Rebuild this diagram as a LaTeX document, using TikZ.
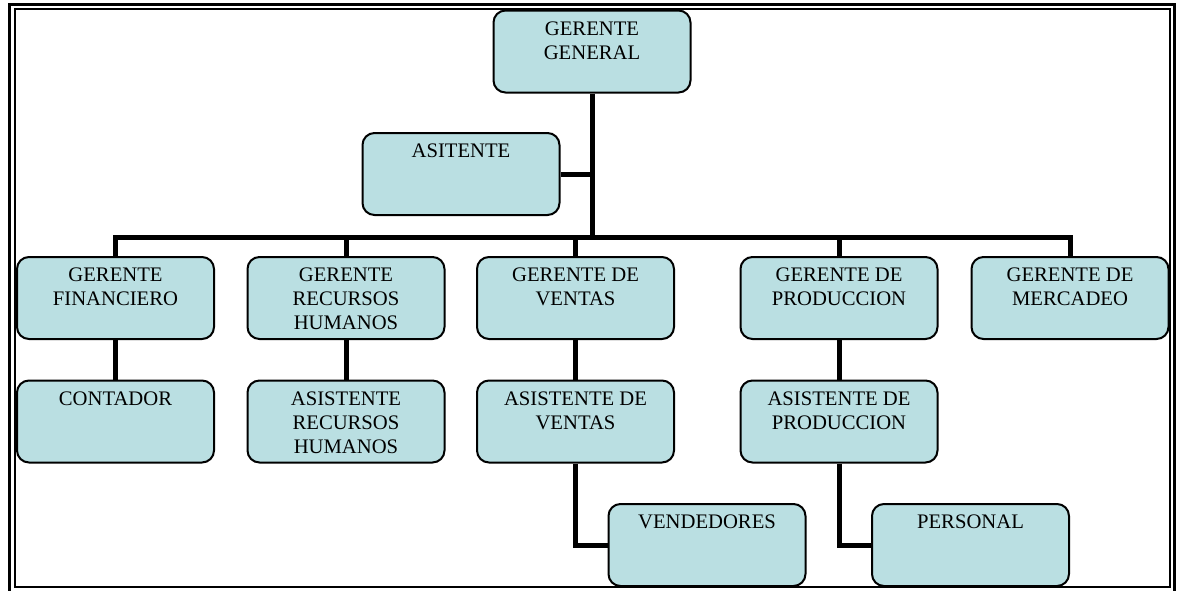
\documentclass[tikz,border=0pt]{standalone}
\usepackage{fontspec}
\setmainfont{Liberation Serif}
\definecolor{boxfill}{RGB}{186,223,226}
% text of a unit: set at the top of a fixed-size box
\newcommand\unittext[1]{\parbox[c][61.5pt][t]{147.75pt}{\centering\vspace*{8.25pt}#1}}
\begin{document}
\begin{tikzpicture}[x=0.75pt,y=-0.75pt,
  unit/.style={draw=black, line width=1.5pt, fill=boxfill, rounded corners=9pt,
    inner sep=0pt, minimum width=147.75pt, minimum height=61.5pt,
    font=\fontsize{15.5}{18}\selectfont},
  conn/.style={line width=3.75pt, draw=black}]
\useasboundingbox (0,0) rectangle (1178,590);

% double page frame
\begin{scope}
  \clip (0,0) rectangle (1178,590);
  \draw[line width=2.25pt] (9.5,4.5) rectangle (1174.5,620);
  \draw[line width=1.5pt] (15,9) rectangle (1169.5,586.5);
\end{scope}

% units
\node[unit] (gg)    at (592,51.5)   {\unittext{GERENTE\\GENERAL}};
\node[unit] (asit)  at (461,174)    {\unittext{ASITENTE}};
\node[unit] (fin)   at (115.5,298)  {\unittext{GERENTE\\FINANCIERO}};
\node[unit] (rrhh)  at (346,298)    {\unittext{GERENTE\\RECURSOS\\HUMANOS}};
\node[unit] (ven)   at (575.5,298)  {\unittext{GERENTE DE\\VENTAS}};
\node[unit] (prod)  at (839,298)    {\unittext{GERENTE DE\\PRODUCCION}};
\node[unit] (merc)  at (1070,298)   {\unittext{GERENTE DE\\MERCADEO}};
\node[unit] (cont)  at (115.5,421.5){\unittext{CONTADOR}};
\node[unit] (rrhhA) at (346,421.5)  {\unittext{ASISTENTE\\RECURSOS\\HUMANOS}};
\node[unit] (venA)  at (575.5,421.5){\unittext{ASISTENTE DE\\VENTAS}};
\node[unit] (prodA) at (839,421.5)  {\unittext{ASISTENTE DE\\PRODUCCION}};
\node[unit] (vend)  at (707,545)    {\unittext{VENDEDORES}};
\node[unit] (pers)  at (970.5,545)  {\unittext{PERSONAL}};

% connectors
\coordinate (bar) at (592,237);
\draw[conn] (gg.south) -- (gg.south |- bar);
\draw[conn] (asit.east) -- (asit.east -| gg.south);
\draw[conn] (fin.north) |- (merc.north |- bar) -- (merc.north);
\draw[conn] (rrhh.north) -- (rrhh.north |- bar);
\draw[conn] (ven.north) -- (ven.north |- bar);
\draw[conn] (prod.north) -- (prod.north |- bar);
\draw[conn] (fin.south) -- (cont.north);
\draw[conn] (rrhh.south) -- (rrhhA.north);
\draw[conn] (ven.south) -- (venA.north);
\draw[conn] (prod.south) -- (prodA.north);
\draw[conn] (venA.south) |- (vend.west);
\draw[conn] (prodA.south) |- (pers.west);
\end{tikzpicture}
\end{document}
